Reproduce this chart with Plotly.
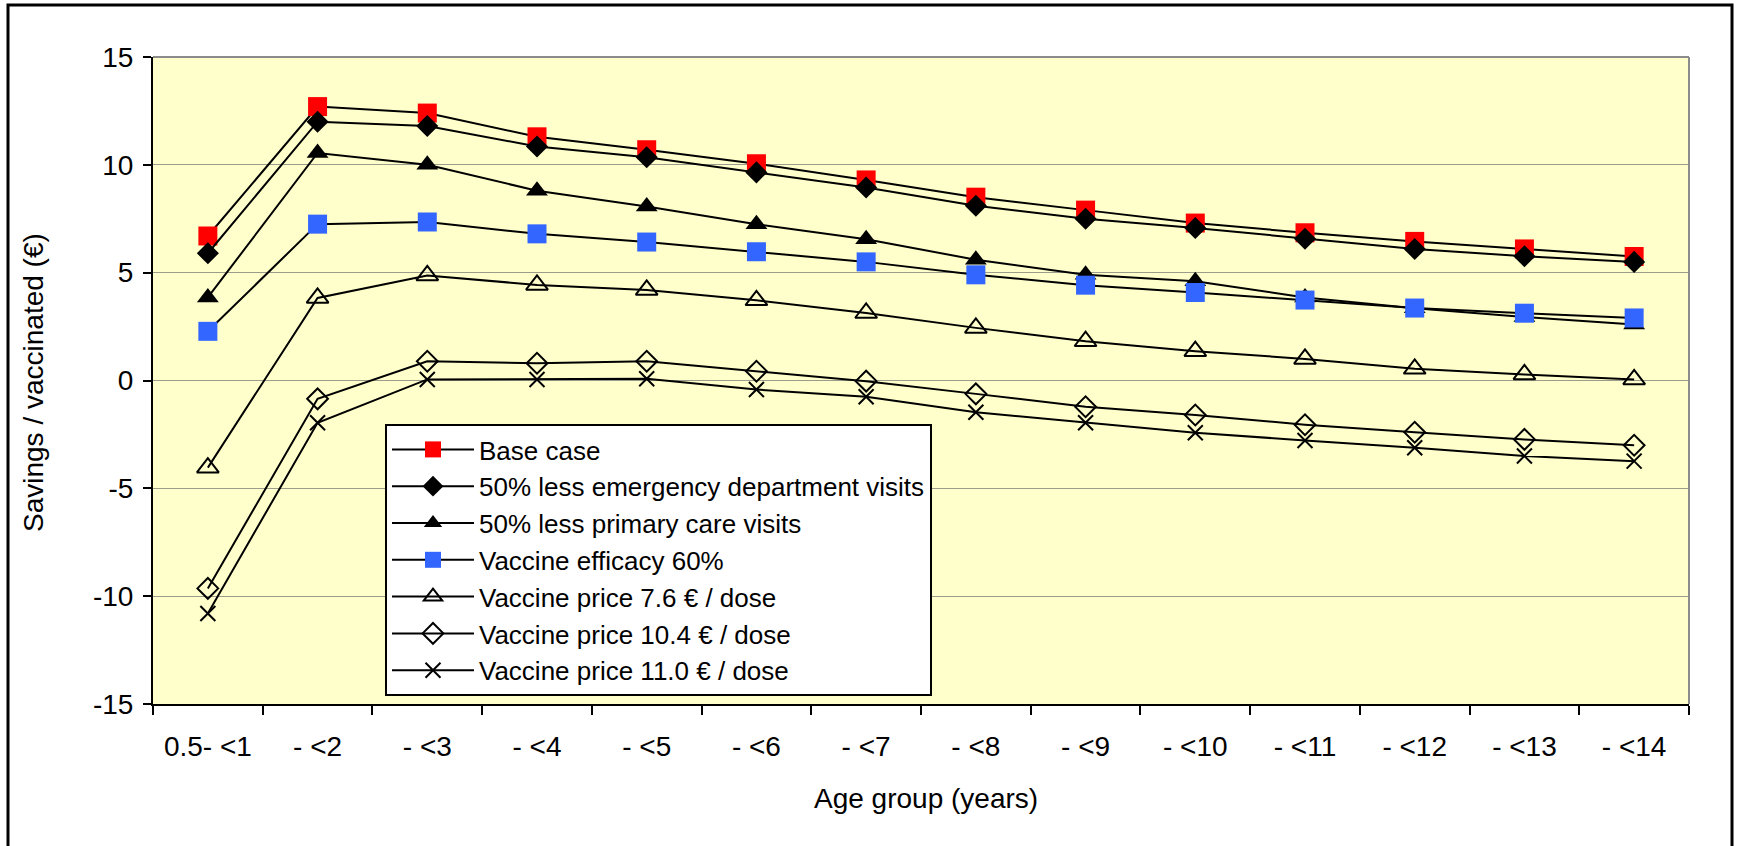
import plotly.graph_objects as go

categories = ["0.5- <1", "- <2", "- <3", "- <4", "- <5", "- <6", "- <7",
              "- <8", "- <9", "- <10", "- <11", "- <12", "- <13", "- <14"]

base_case = [6.7, 12.7, 12.4, 11.3, 10.7, 10.05, 9.3, 8.5, 7.9, 7.3, 6.85, 6.45, 6.1, 5.75]
less_ed = [5.9, 12.0, 11.8, 10.85, 10.35, 9.65, 8.95, 8.1, 7.5, 7.07, 6.57, 6.1, 5.76, 5.5]
less_pc = [3.85, 10.55, 10.0, 8.8, 8.07, 7.25, 6.55, 5.6, 4.9, 4.6, 3.85, 3.35, 2.95, 2.6]
efficacy60 = [2.28, 7.25, 7.35, 6.8, 6.42, 5.97, 5.5, 4.9, 4.42, 4.08, 3.73, 3.36, 3.12, 2.9]
price_7_6 = [-4.04, 3.83, 4.87, 4.43, 4.2, 3.72, 3.13, 2.44, 1.82, 1.36, 1.0, 0.54, 0.28, 0.05]
price_10_4 = [-9.64, -0.85, 0.89, 0.8, 0.89, 0.43, -0.03, -0.62, -1.22, -1.6, -2.05, -2.4, -2.73, -3.0]
price_11_0 = [-10.8, -1.96, 0.05, 0.05, 0.08, -0.42, -0.75, -1.47, -1.96, -2.42, -2.78, -3.12, -3.5, -3.74]

series_names = ["Base case", "50% less emergency department visits", "50% less primary care visits",
                "Vaccine efficacy 60%", "Vaccine price 7.6 € / dose", "Vaccine price 10.4 € / dose",
                "Vaccine price 11.0 € / dose"]

y_tick_vals = [-15, -10, -5, 0, 5, 10, 15]
y_tick_text = ["-15", "-10", "-5", "0", "5", "10", "15"]

FONT = "Liberation Sans, Arial, sans-serif"
TICK_FS = 28
LEG_FS = 26
TITLE_FS = 28

styles = [
    dict(symbol="square", size=19, color="#FF0000", line=dict(width=0)),
    dict(symbol="diamond", size=17, color="#000000", line=dict(width=0)),
    dict(symbol="triangle-up", size=19, color="#000000", line=dict(width=0)),
    dict(symbol="square", size=19, color="#3366FF", line=dict(width=0)),
    dict(symbol="triangle-up-open", size=19, color="#000000", line=dict(width=2, color="#000000")),
    dict(symbol="diamond-open", size=16, color="#000000", line=dict(width=2, color="#000000")),
    dict(symbol="x-thin-open", size=15, color="#000000", line=dict(width=2, color="#000000")),
]

data = [base_case, less_ed, less_pc, efficacy60, price_7_6, price_10_4, price_11_0]

fig = go.Figure()
for i, (name, vals, st) in enumerate(zip(series_names, data, styles)):
    fig.add_trace(go.Scatter(
        x=categories, y=vals, name=name, mode="lines+markers",
        line=dict(color="#000000", width=2),
        marker=st, legendgroup=f"g{i}",
    ))

W, H = 1739, 846
L, R, T, B = 153, 50, 57, 142
pw, ph = W - L - R, H - T - B

def px_x(px):
    return (px - L) / pw

def px_y(py):
    return (H - B - py) / ph

fig.update_layout(
    width=W, height=H,
    margin=dict(l=L, r=R, t=T, b=B, pad=0),
    paper_bgcolor="#FFFFFF",
    plot_bgcolor="#FFFFCC",
    font=dict(family=FONT, size=TICK_FS, color="#000000"),
    showlegend=True,
    legend=dict(
        x=px_x(385), y=px_y(424), xanchor="left", yanchor="top",
        bgcolor="#FFFFFF", bordercolor="#000000", borderwidth=2,
        font=dict(family=FONT, size=LEG_FS, color="#000000"),
        tracegroupgap=0, itemwidth=82,
        entrywidth=490, entrywidthmode="pixels",
    ),
    xaxis=dict(
        type="category", range=[-0.5, 13.5], tickson="boundaries",
        ticks="outside", ticklen=9, tickwidth=2, tickcolor="#000000",
        showline=True, linecolor="#000000", linewidth=2,
        showgrid=False, zeroline=False,
        tickfont=dict(family=FONT, size=TICK_FS), ticklabelstandoff=16,
    ),
    yaxis=dict(
        range=[-15, 15], tickvals=y_tick_vals, ticktext=y_tick_text,
        ticks="outside", ticklen=8, tickwidth=2, tickcolor="#000000",
        showline=True, linecolor="#000000", linewidth=2,
        showgrid=True, gridcolor="#9C9C8A", gridwidth=1.2,
        zeroline=False,
        tickfont=dict(family=FONT, size=TICK_FS), ticklabelstandoff=4,
    ),
    annotations=[
        dict(text="Savings / vaccinated (€)", xref="paper", yref="paper",
             x=px_x(33), y=px_y(383), xanchor="center", yanchor="middle",
             textangle=-90, showarrow=False, font=dict(family=FONT, size=TITLE_FS)),
        dict(text="Age group (years)", xref="paper", yref="paper",
             x=px_x(926), y=px_y(799), xanchor="center", yanchor="middle",
             showarrow=False, font=dict(family=FONT, size=TITLE_FS)),
    ],
    shapes=[
        dict(type="line", xref="paper", yref="paper", x0=0, x1=1, y0=1, y1=1,
             line=dict(color="#8C8C8C", width=2), layer="above"),
        dict(type="line", xref="paper", yref="paper", x0=1, x1=1, y0=0, y1=1,
             line=dict(color="#8C8C8C", width=2), layer="above"),
        dict(type="rect", xref="paper", yref="paper",
             x0=px_x(8), x1=px_x(1732), y0=px_y(860), y1=px_y(5),
             line=dict(color="#000000", width=3), fillcolor="rgba(0,0,0,0)", layer="above"),
    ],
)

fig.write_html("out.html", config={"displayModeBar": False},
               post_script="document.body.style.margin='0';document.body.style.overflow='hidden';")
